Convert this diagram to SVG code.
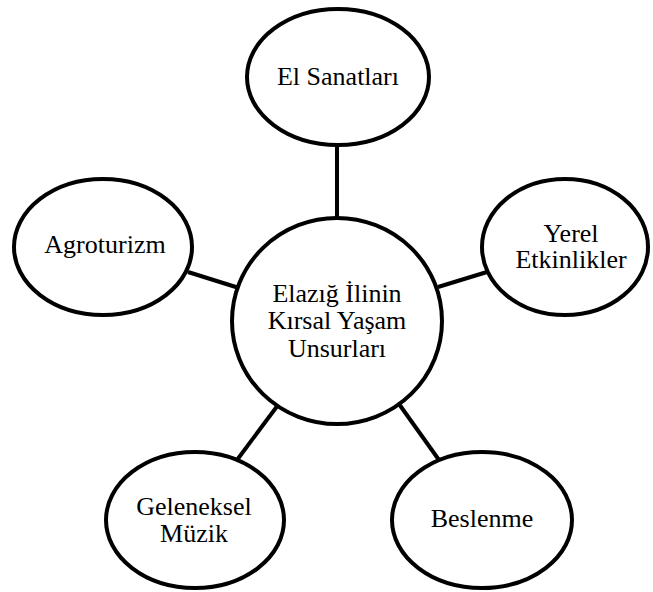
<svg xmlns="http://www.w3.org/2000/svg" width="653" height="592" viewBox="0 0 653 592">
  <style>
    .shape { fill: #ffffff; stroke: #000000; stroke-width: 4; }
    .conn { stroke: #000000; stroke-width: 4; fill: none; }
    text { font-family: 'Liberation Serif', Tinos, 'DejaVu Serif', serif; font-size: 26px; fill: #000000; text-anchor: middle; }
  </style>
  <rect width="653" height="592" fill="#ffffff"/>
  <g id="connectors">
    <line class="conn" x1="337" y1="143" x2="337" y2="221"/>
    <line class="conn" x1="487" y1="272" x2="438" y2="287"/>
    <line class="conn" x1="188" y1="272" x2="239" y2="288"/>
    <line class="conn" x1="237" y1="460" x2="278" y2="405"/>
    <line class="conn" x1="399" y1="404" x2="439" y2="460"/>
  </g>
  <g id="center">
    <ellipse class="shape" cx="337" cy="321" rx="105" ry="103"/>
    <text x="337" y="302" font-family="Liberation Serif, serif">Elazığ İlinin</text>
    <text x="337" y="329" font-family="Liberation Serif, serif">Kırsal Yaşam</text>
    <text x="337" y="357" font-family="Liberation Serif, serif">Unsurları</text>
  </g>
  <g id="el-sanatlari">
    <ellipse class="shape" cx="338" cy="77" rx="91" ry="68"/>
    <text x="338" y="85" font-family="Liberation Serif, serif">El Sanatları</text>
  </g>
  <g id="yerel-etkinlikler">
    <ellipse class="shape" cx="565" cy="247" rx="83" ry="68"/>
    <text x="571" y="242" font-family="Liberation Serif, serif">Yerel</text>
    <text x="571" y="268" font-family="Liberation Serif, serif">Etkinlikler</text>
  </g>
  <g id="agroturizm">
    <ellipse class="shape" cx="103" cy="247" rx="89" ry="68"/>
    <text x="105" y="253" font-family="Liberation Serif, serif">Agroturizm</text>
  </g>
  <g id="geleneksel-muzik">
    <ellipse class="shape" cx="195" cy="520" rx="89" ry="68"/>
    <text x="194" y="515" font-family="Liberation Serif, serif">Geleneksel</text>
    <text x="194" y="542" font-family="Liberation Serif, serif">Müzik</text>
  </g>
  <g id="beslenme">
    <ellipse class="shape" cx="482" cy="520" rx="90" ry="68"/>
    <text x="482" y="527" font-family="Liberation Serif, serif">Beslenme</text>
  </g>
</svg>
